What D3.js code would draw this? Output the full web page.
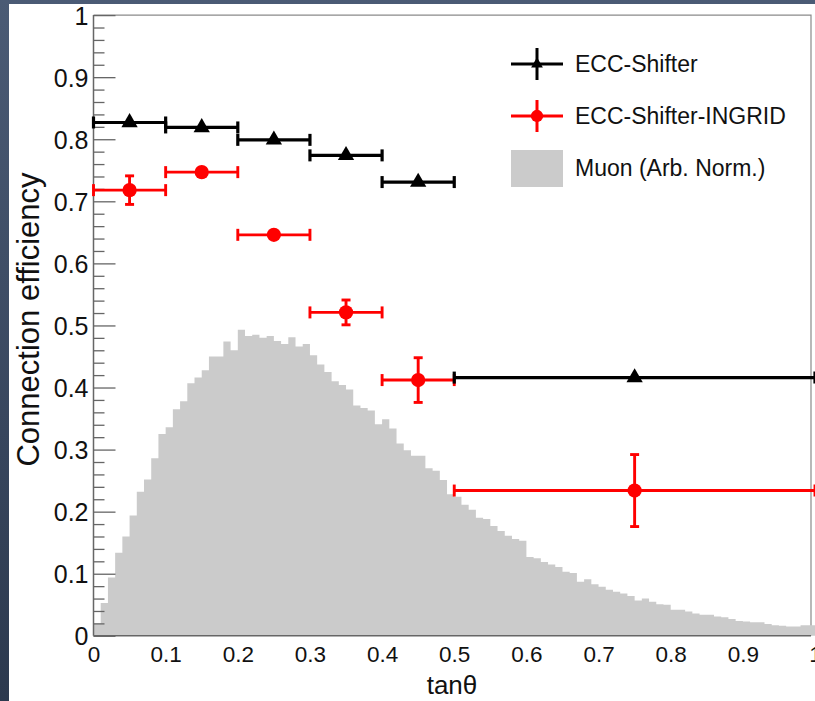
<!DOCTYPE html>
<html>
<head>
<meta charset="utf-8">
<script src="https://cdn.jsdelivr.net/npm/d3@7"></script>
<style>
  html, body { margin: 0; padding: 0; overflow: hidden; }
  svg { display: block; font-family: "Liberation Sans", Arial, sans-serif; }
</style>
</head>
<body>
<div id="container"></div>
<script>
const w = 815,
    h = 701;

// bins of the two efficiency graphs
var binLow = [0, 0.1, 0.2, 0.3, 0.4, 0.5];
var binHigh = [0.1, 0.2, 0.3, 0.4, 0.5, 1.0];
var binCenter = [0.05, 0.15, 0.25, 0.35, 0.45, 0.75];

var shifterEff = [0.827, 0.819, 0.799, 0.774, 0.731, 0.416];
var shifterErr = [0.004, 0.004, 0.004, 0.004, 0.004, 0.004];

var ingridEff = [0.718, 0.747, 0.646, 0.521, 0.412, 0.234];
var ingridErr = [0.023, 0.004, 0.009, 0.020, 0.036, 0.058];

// muon tanθ distribution, 100 bins of 0.01 (arbitrary normalisation)
var muonHist = [
    0.020, 0.053, 0.094, 0.134, 0.160, 0.194, 0.232, 0.252, 0.286, 0.325,
    0.336, 0.365, 0.378, 0.407, 0.416, 0.428, 0.450, 0.450, 0.474, 0.460,
    0.493, 0.483, 0.485, 0.480, 0.483, 0.475, 0.470, 0.481, 0.466, 0.470,
    0.452, 0.437, 0.425, 0.410, 0.404, 0.397, 0.371, 0.367, 0.363, 0.341,
    0.349, 0.334, 0.310, 0.299, 0.290, 0.290, 0.270, 0.266, 0.251, 0.228,
    0.224, 0.211, 0.203, 0.190, 0.188, 0.177, 0.169, 0.161, 0.156, 0.153,
    0.127, 0.125, 0.119, 0.115, 0.111, 0.103, 0.101, 0.087, 0.091, 0.083,
    0.079, 0.074, 0.071, 0.068, 0.064, 0.057, 0.060, 0.055, 0.051, 0.050,
    0.042, 0.042, 0.039, 0.036, 0.034, 0.034, 0.031, 0.030, 0.027, 0.024,
    0.023, 0.022, 0.022, 0.019, 0.017, 0.016, 0.015, 0.015, 0.017, 0.017
];
var muonBinWidth = 0.01;

var yTicks = [0, 0.1, 0.2, 0.3, 0.4, 0.5, 0.6, 0.7, 0.8, 0.9, 1];
var yTickLabels = ["0", "0.1", "0.2", "0.3", "0.4", "0.5", "0.6", "0.7", "0.8", "0.9", "1"];
var xTicks = [0, 0.1, 0.2, 0.3, 0.4, 0.5, 0.6, 0.7, 0.8, 0.9, 1];
var xTickLabels = ["0", "0.1", "0.2", "0.3", "0.4", "0.5", "0.6", "0.7", "0.8", "0.9", "1"];

var legendLabels = ["ECC-Shifter", "ECC-Shifter-INGRID", "Muon (Arb. Norm.)"];

var svg = d3
    .select("div#container")
    .append("svg")
    .attr("width", w)
    .attr("height", h);

// slide background
var grad = svg.append("defs").append("linearGradient")
    .attr("id", "bg")
    .attr("x1", 0).attr("y1", 0).attr("x2", 0).attr("y2", 1);
grad.append("stop").attr("offset", "0%").attr("stop-color", "#4b5b75");
grad.append("stop").attr("offset", "100%").attr("stop-color", "#2c394e");
svg.append("rect").attr("width", w).attr("height", h).style("fill", "url(#bg)");
svg.append("rect")
    .attr("x", 9).attr("y", 4)
    .attr("width", w - 9).attr("height", h - 4)
    .style("fill", "#ffffff");

var x = d3.scaleLinear().domain([0, 1]).range([93.5, 815]);
var y = d3.scaleLinear().domain([0, 1]).range([635.8, 15.1]);

// frame (top and right)
svg.append("path")
    .attr("d", "M" + x(0) + "," + y(1) + "H811V" + y(0))
    .style("fill", "none")
    .style("stroke", "#8a8a8a")
    .style("stroke-width", 1.2);

// muon histogram
var histArea = d3.area()
    .curve(d3.curveStepAfter)
    .x(d => x(d[0]))
    .y0(y(0))
    .y1(d => y(d[1]));
var histPts = muonHist.map((v, i) => [i * muonBinWidth, v]);
histPts.push([muonHist.length * muonBinWidth, muonHist[muonHist.length - 1]]);
svg.append("path")
    .datum(histPts)
    .attr("d", histArea)
    .style("fill", "#cbcbcb");

// y axis: ticks inside, labels outside
var yMinor = d3.range(0, 51).map(d => d / 50).filter(d => Math.round(d * 50) % 5 !== 0);
svg.append("g")
    .attr("transform", "translate(" + x(0) + ",0)")
    .call(d3.axisRight(y).tickValues(yMinor).tickSize(11).tickFormat(""))
    .call(g => g.select(".domain").remove())
    .selectAll("line").style("stroke", "#666").style("stroke-width", 1.3);
svg.append("g")
    .attr("transform", "translate(" + x(0) + ",0)")
    .call(d3.axisRight(y).tickValues(yTicks).tickSize(22).tickFormat(""))
    .call(g => g.select(".domain").remove())
    .selectAll("line").style("stroke", "#666").style("stroke-width", 1.3);
var yAxis = svg.append("g")
    .attr("transform", "translate(" + x(0) + ",0)")
    .call(d3.axisLeft(y).tickValues(yTicks).tickSize(0).tickPadding(5)
        .tickFormat((d, i) => yTickLabels[i]));
yAxis.select(".domain").attr("d", "M0," + y(0) + "V" + y(1)).style("stroke", "#666").style("stroke-width", 1.5);
yAxis.selectAll("text")
    .style("font-size", "25px")
    .style("fill", "#111")
    .attr("dy", "0.36em")
    .style("font-family", "Liberation Sans, Arial, sans-serif");

// x axis: labels only
var xAxis = svg.append("g")
    .attr("transform", "translate(0," + y(0) + ")")
    .call(d3.axisBottom(x).tickValues(xTicks).tickSize(0)
        .tickFormat((d, i) => xTickLabels[i]));
xAxis.select(".domain").attr("d", "M" + x(0) + ",0H811").style("stroke", "#666").style("stroke-width", 1.5);
xAxis.selectAll("text")
    .attr("dy", null)
    .attr("y", 26)
    .style("font-size", "22.5px")
    .style("fill", "#111")
    .style("font-family", "Liberation Sans, Arial, sans-serif");

// axis titles
svg.append("text")
    .attr("x", 452)
    .attr("y", 694)
    .attr("text-anchor", "middle")
    .style("font-size", "26px")
    .style("fill", "#111")
    .text("tanθ");
svg.append("text")
    .attr("transform", "translate(38.5,319.5) rotate(-90)")
    .attr("text-anchor", "middle")
    .style("font-size", "31px")
    .style("fill", "#111")
    .text("Connection efficiency");

// graphs with x and y error bars
function drawGraph(values, errors, color, width, marker) {
    var g = svg.append("g");
    var capH = 6, capV = 4.5;
    values.forEach(function (v, i) {
        var yy = y(v), x0 = x(binLow[i]), x1 = x(binHigh[i]), xc = x(binCenter[i]);
        g.append("line")
            .attr("x1", x0).attr("x2", x1).attr("y1", yy).attr("y2", yy)
            .style("stroke", color).style("stroke-width", width);
        [x0, x1].forEach(function (xe) {
            g.append("line")
                .attr("x1", xe).attr("x2", xe).attr("y1", yy - capH).attr("y2", yy + capH)
                .style("stroke", color).style("stroke-width", width);
        });
        var yTop = y(v + errors[i]), yBot = y(v - errors[i]);
        if (yBot - yTop > 12) {
            g.append("line")
                .attr("x1", xc).attr("x2", xc).attr("y1", yTop).attr("y2", yBot)
                .style("stroke", color).style("stroke-width", width);
            [yTop, yBot].forEach(function (ye) {
                g.append("line")
                    .attr("x1", xc - capV).attr("x2", xc + capV).attr("y1", ye).attr("y2", ye)
                    .style("stroke", color).style("stroke-width", width);
            });
        }
        g.append("path")
            .attr("transform", "translate(" + xc + "," + yy + ")")
            .attr("d", marker)
            .style("fill", color);
    });
}
var triangle = d3.symbol().type(d3.symbolTriangle).size(115)();
var circle = d3.symbol().type(d3.symbolCircle).size(160)();
drawGraph(ingridEff, ingridErr, "#ff0000", 2.9, circle);
drawGraph(shifterEff, shifterErr, "#000000", 3.2, triangle);

// legend
var legend = svg.append("g").attr("id", "legend");
var legendY = [64, 116, 168];
legendLabels.forEach(function (label, i) {
    var ly = legendY[i];
    if (i < 2) {
        var color = i === 0 ? "#000000" : "#ff0000";
        legend.append("line")
            .attr("x1", 511).attr("x2", 563).attr("y1", ly).attr("y2", ly)
            .style("stroke", color).style("stroke-width", 3);
        legend.append("line")
            .attr("x1", 537).attr("x2", 537).attr("y1", ly - 16).attr("y2", ly + 16)
            .style("stroke", color).style("stroke-width", 3);
        legend.append("path")
            .attr("transform", "translate(537," + ly + ")")
            .attr("d", i === 0 ? d3.symbol().type(d3.symbolTriangle).size(60)() : d3.symbol().type(d3.symbolCircle).size(120)())
            .style("fill", color);
    } else {
        legend.append("rect")
            .attr("x", 511).attr("y", ly - 18)
            .attr("width", 52).attr("height", 37)
            .style("fill", "#cbcbcb");
    }
    legend.append("text")
        .attr("x", 575)
        .attr("y", ly)
        .attr("dy", "0.36em")
        .style("font-size", "23px")
        .style("fill", "#111")
        .text(label);
});
</script>
</body>
</html>
